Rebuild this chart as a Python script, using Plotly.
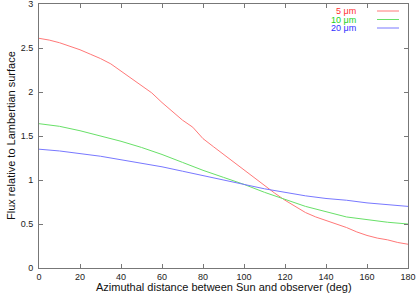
import plotly.graph_objects as go

angles = list(range(0, 181, 5))
flux_5um = [2.61, 2.59, 2.56, 2.52, 2.48, 2.43, 2.38, 2.32, 2.24, 2.15, 2.08, 1.99,
            1.88, 1.78, 1.68, 1.60, 1.47, 1.38, 1.29, 1.20, 1.12, 1.03, 0.93, 0.85,
            0.77, 0.70, 0.63, 0.58, 0.54, 0.50, 0.46, 0.41, 0.37, 0.34, 0.32, 0.29, 0.27]
angles_10 = list(range(0, 181, 10))
flux_10um = [1.64, 1.61, 1.56, 1.50, 1.44, 1.37, 1.29, 1.20, 1.11, 1.03, 0.95, 0.86,
             0.78, 0.70, 0.64, 0.58, 0.55, 0.52, 0.50]
flux_20um = [1.35, 1.33, 1.30, 1.27, 1.23, 1.19, 1.15, 1.10, 1.05, 1.00, 0.95, 0.90,
             0.86, 0.82, 0.79, 0.77, 0.74, 0.72, 0.70]
labels = ["5 μm", "10 μm", "20 μm"]
line_colors = ["#ff7878", "#68e068", "#7878ff"]
text_colors = ["#ff3030", "#20d020", "#3030ff"]
x_ticks = list(range(0, 181, 20))
y_ticks = [0, 0.5, 1, 1.5, 2, 2.5, 3]
y_ticktext = ["0", "0.5", "1", "1.5", "2", "2.5", "3"]
x_title = "Azimuthal distance between Sun and observer (deg)"
y_title = "Flux relative to Lambertian surface"

fig = go.Figure()
fig.add_trace(go.Scatter(x=angles, y=flux_5um, mode="lines", line=dict(color=line_colors[0], width=1)))
fig.add_trace(go.Scatter(x=angles_10, y=flux_10um, mode="lines", line=dict(color=line_colors[1], width=1)))
fig.add_trace(go.Scatter(x=angles_10, y=flux_20um, mode="lines", line=dict(color=line_colors[2], width=1)))

W, H = 419, 296
ml, mr, mt, mb = 39, 11, 4, 28
pw, ph = W - ml - mr, H - mt - mb

# gnuplot-style legend (text right-aligned, sample line to its right)
legend_y = [11, 19.5, 28]
for lab, lc, tc, yy in zip(labels, line_colors, text_colors, legend_y):
    yp = 1 - (yy - mt) / ph
    fig.add_annotation(x=(358 - ml) / pw, y=yp, xref="paper", yref="paper", text=lab,
                       showarrow=False, xanchor="right", yanchor="middle",
                       font=dict(color=tc, size=9))
    fig.add_shape(type="line", xref="paper", yref="paper",
                  x0=(377 - ml) / pw, x1=(399 - ml) / pw, y0=yp, y1=yp,
                  line=dict(color=lc, width=1))

# axis titles
fig.add_annotation(x=0.5, y=-(287 - (H - mb)) / ph, xref="paper", yref="paper", text=x_title,
                   showarrow=False, xanchor="center", yanchor="middle",
                   font=dict(size=11, color="#111111"))
fig.add_annotation(x=-(ml - 11) / pw, y=0.5, xref="paper", yref="paper", text=y_title,
                   showarrow=False, xanchor="center", yanchor="middle", textangle=-90,
                   font=dict(size=11, color="#111111"))

axis_common = dict(showgrid=False, zeroline=False, showline=True, linecolor="#777777", linewidth=1,
                   mirror="allticks", ticks="inside", ticklen=4, tickcolor="#777777",
                   tickfont=dict(size=9, color="#222222"), automargin=False,
                   ticklabeloverflow="allow")
fig.update_xaxes(range=[0, 180], tickvals=x_ticks, ticklabelstandoff=0, **axis_common)
fig.update_yaxes(range=[0, 3], tickvals=y_ticks, ticktext=y_ticktext, ticklabelstandoff=3, **axis_common)
fig.update_layout(width=W, height=H, margin=dict(l=ml, r=mr, t=mt, b=mb),
                  showlegend=False, plot_bgcolor="white", paper_bgcolor="white",
                  font=dict(family="Liberation Sans, Arial, sans-serif"))
fig.write_html("out.html", config={"displayModeBar": False},
               post_script="document.body.style.margin='0';document.body.style.overflow='hidden';")
